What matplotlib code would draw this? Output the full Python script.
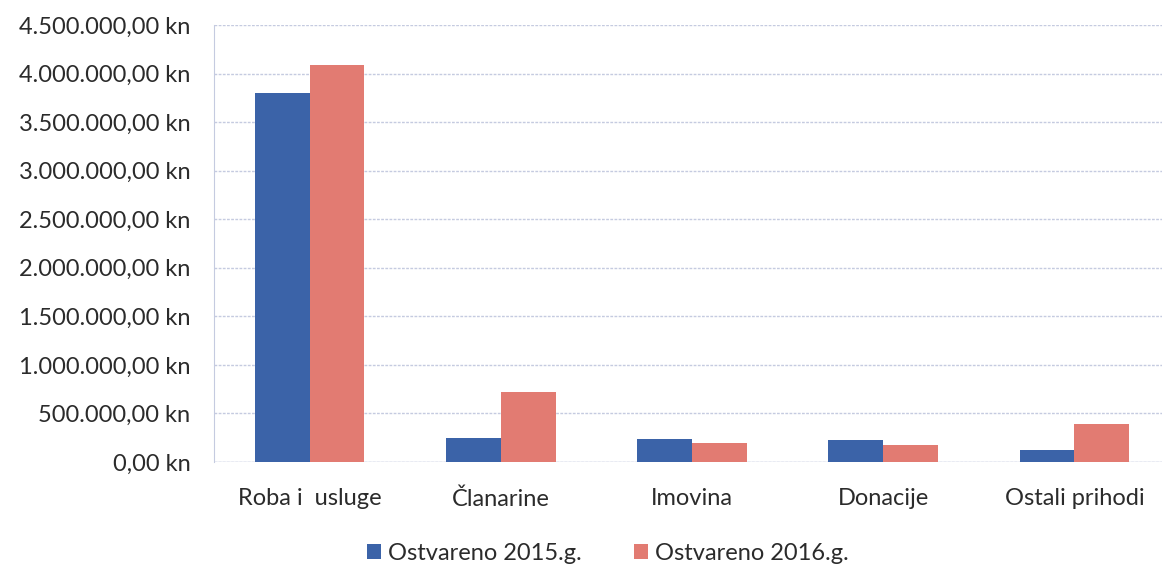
import matplotlib
matplotlib.use("Agg")
import matplotlib.pyplot as plt
import numpy as np
from matplotlib.ticker import FuncFormatter

categories = ["Roba i  usluge", "Članarine", "Imovina", "Donacije", "Ostali prihodi"]
series_names = ["Ostvareno 2015.g.", "Ostvareno 2016.g."]
values_2015 = [3800000, 247000, 234000, 222000, 122000]
values_2016 = [4090000, 718000, 200000, 172000, 392000]
colors = ["#3b63a8", "#e27b72"]

plt.rcParams['font.family'] = ['Lato', 'DejaVu Sans']
FS = 17
TC = '#2b2b2b'

fig = plt.figure(figsize=(11.62, 5.69), dpi=100)
ax = fig.add_axes([214/1162, 1-462/569, (1170-214)/1162, (462-25)/569])

x = np.arange(len(categories))
w = 0.287
ax.bar(x - w/2, values_2015, w, color=colors[0], label=series_names[0], zorder=3)
ax.bar(x + w/2, values_2016, w, color=colors[1], label=series_names[1], zorder=3)

ax.set_xlim(-0.5, len(categories) - 0.5)
ax.set_ylim(0, 4500000)
ax.set_yticks(np.arange(0, 4500001, 500000))

def fmt(v, pos):
    s = f"{int(round(v)):,}".replace(",", ".")
    return s + ",00 kn"
ax.yaxis.set_major_formatter(FuncFormatter(fmt))

ax.grid(axis='y', color='#c5cbe0', linestyle=(0, (2, 1)), linewidth=1, zorder=0)
for s in ['top', 'right', 'bottom']:
    ax.spines[s].set_visible(False)
ax.spines['left'].set_color('#c5cbe0')
ax.spines['left'].set_linestyle((0, (2, 1)))
ax.tick_params(axis='both', length=0, labelsize=FS, colors=TC)
ax.tick_params(axis='y', pad=17)
ax.tick_params(axis='x', pad=19)
ax.set_xticks(x)
ax.set_xticklabels(categories)

ax.axhline(0, color='#c5cbe0', linewidth=1, zorder=2)

leg = fig.legend(loc='center', bbox_to_anchor=(608/1162, 1-553/569), ncol=2, frameon=False,
                 fontsize=FS, handlelength=0.6, handleheight=0.6, handletextpad=0.3,
                 columnspacing=2.2)
for t in leg.get_texts():
    t.set_color(TC)

fig.savefig("out.png", dpi=100)
